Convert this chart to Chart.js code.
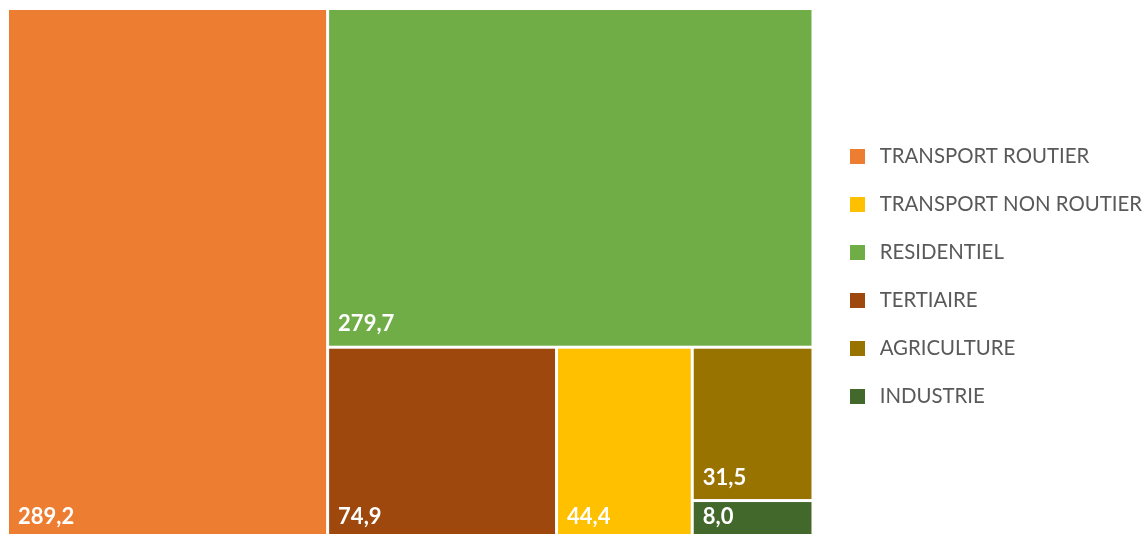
<!DOCTYPE html>
<html>
<head>
<meta charset="utf-8">
<script src="https://cdn.jsdelivr.net/npm/chart.js@4.4.1/dist/chart.umd.min.js"></script>
<style>
  html, body { margin: 0; padding: 0; background: #fff; overflow: hidden; }
  #wrap { width: 1143px; height: 540px; }
</style>
</head>
<body>
<div id="wrap"><canvas id="grafico"></canvas></div>
<script>
const secteurs = ['TRANSPORT ROUTIER', 'TRANSPORT NON ROUTIER', 'RESIDENTIEL', 'TERTIAIRE', 'AGRICULTURE', 'INDUSTRIE'];
const valeurs = [289.2, 44.4, 279.7, 74.9, 31.5, 8.0];
const couleurs = ['#ED7D31', '#FFC000', '#70AD47', '#9E480E', '#997300', '#43682B'];

// petit carré pour la légende
const carre = (cor) => {
    const c = document.createElement('canvas');
    c.width = 15;
    c.height = 15;
    const g = c.getContext('2d');
    g.fillStyle = cor;
    g.fillRect(0, 0, 15, 15);
    return c;
};

// squarified treemap, computed in the data space of the x/y scales
const worst = (row, side) => {
    const s = row.reduce((a, r) => a + r.a, 0);
    const max = Math.max(...row.map(r => r.a));
    const min = Math.min(...row.map(r => r.a));
    return Math.max(side * side * max / (s * s), (s * s) / (side * side * min));
};

const squarify = (vals, W, H) => {
    const total = vals.reduce((a, v) => a + v, 0);
    let rest = vals.map((v, i) => ({ a: v / total * W * H, i })).sort((p, q) => q.a - p.a);
    let x = 0, y = 0, w = W, h = H;
    const out = [];
    while (rest.length) {
        const side = Math.min(w, h);
        const row = [rest[0]];
        let k = 1;
        while (k < rest.length && worst([...row, rest[k]], side) <= worst(row, side)) {
            row.push(rest[k]);
            k++;
        }
        rest = rest.slice(k);
        const s = row.reduce((a, r) => a + r.a, 0);
        if (w >= h) {
            const cw = s / h;
            let cy = y;
            row.forEach(r => { const rh = r.a / cw; out.push({ x, y: cy, w: cw, h: rh, i: r.i }); cy += rh; });
            x += cw; w -= cw;
        } else {
            const rh = s / w;
            let cx = x;
            row.forEach(r => { const rw = r.a / rh; out.push({ x: cx, y, w: rw, h: rh, i: r.i }); cx += rw; });
            y += rh; h -= rh;
        }
    }
    return out;
};

const treemapPlugin = {
    id: 'treemap',
    beforeDatasetsDraw(chart) {
        const { ctx, scales: { x: xs, y: ys } } = chart;
        const aspect = Math.abs(xs.getPixelForValue(1) - xs.getPixelForValue(0)) /
                       Math.abs(ys.getPixelForValue(1) - ys.getPixelForValue(0));
        const cells = squarify(valeurs, aspect, 1);
        const gap = 1.5;
        ctx.save();
        cells.forEach(c => {
            const x0 = xs.getPixelForValue(c.x / aspect);
            const x1 = xs.getPixelForValue((c.x + c.w) / aspect);
            const y0 = ys.getPixelForValue(c.y);
            const y1 = ys.getPixelForValue(c.y + c.h);
            ctx.fillStyle = couleurs[c.i];
            ctx.fillRect(x0 + gap, y0 + gap, x1 - x0 - 2 * gap, y1 - y0 - 2 * gap);
            ctx.fillStyle = '#ffffff';
            ctx.font = 'bold 22px Lato';
            ctx.textBaseline = 'alphabetic';
            ctx.textAlign = 'left';
            ctx.fillText(valeurs[c.i].toFixed(1).replace('.', ','), x0 + gap + 9, y1 - gap - 14.5);
        });
        ctx.restore();
    }
};

const ctx = document.getElementById('grafico').getContext('2d');
const grafico = new Chart(ctx, {
    type: 'scatter',
    data: {
        datasets: secteurs.map((s, i) => ({
            label: s,
            data: [],
            backgroundColor: couleurs[i],
            borderColor: couleurs[i],
            borderWidth: 0,
            pointStyle: carre(couleurs[i])
        }))
    },
    options: {
        responsive: true,
        maintainAspectRatio: false,
        animation: false,
        layout: { padding: { left: 7.5, top: 8.5, right: -9, bottom: -4 } },
        scales: {
            x: {
                type: 'linear', min: 0, max: 1.0061, position: 'bottom',
                ticks: { display: false }, grid: { display: false }, border: { display: false },
                afterFit: (s) => { s.height = 4.5; }
            },
            y: { type: 'linear', min: 0, max: 1, reverse: true, display: false }
        },
        plugins: {
            legend: {
                position: 'right',
                labels: {
                    usePointStyle: true,
                    pointStyleWidth: 24,
                    boxHeight: 15,
                    padding: 27.6,
                    color: '#595959',
                    font: { family: 'Lato', size: 20.4 }
                }
            },
            tooltip: { enabled: false }
        }
    },
    plugins: [treemapPlugin]
});
</script>
</body>
</html>
